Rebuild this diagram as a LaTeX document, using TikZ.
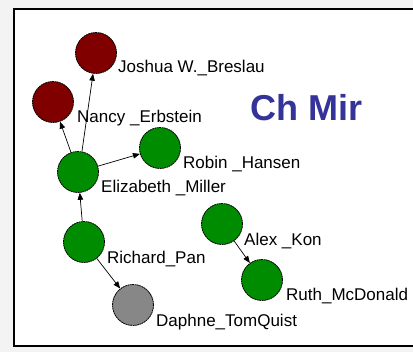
\documentclass[tikz,border=0pt]{standalone}
\usepackage{fontspec}
\setmainfont{Liberation Sans}
\usetikzlibrary{arrows.meta}
\definecolor{bgout}{HTML}{F3F3F3}
\definecolor{dred}{HTML}{800000}
\definecolor{dgreen}{HTML}{008C00}
\definecolor{dgray}{HTML}{878787}
\definecolor{titleblue}{HTML}{333399}
\tikzset{
  person/.style={circle, minimum size=41pt, inner sep=0pt, draw=black, line width=0.8pt, dash pattern=on 1.8pt off 0.6pt},
  red/.style={person, fill=dred},
  grn/.style={person, fill=dgreen},
  gry/.style={person, fill=dgray},
  lbl/.style={anchor=base west, inner sep=0pt, font=\fontsize{17}{17}\selectfont},
  link/.style={draw=black, line width=0.7pt, -{Triangle[length=7pt,width=5.5pt]}}
}
\begin{document}
\begin{tikzpicture}[x=1pt,y=-1pt]
\useasboundingbox (0,0) rectangle (413,352);
\fill[bgout] (0,0) rectangle (413,352);
\fill[white] (14,9) rectangle (420,346);
\draw[line width=2pt] (420,9) -- (14,9) -- (14,346) -- (420,346);
% nodes
\node[red] (jos) at (96,53) {};
\node[red] (nan) at (53,102) {};
\node[grn] (rob) at (160,148) {};
\node[grn] (eli) at (78,172) {};
\node[grn] (ric) at (84,242) {};
\node[gry] (dap) at (133,305) {};
\node[grn] (ale) at (222,224) {};
\node[grn] (rut) at (262,280) {};
% labels
\node[lbl] (ljos) at (118,73) {Joshua W.\_Breslau};
\node[lbl] (lnan) at (77,123) {Nancy \_Erbstein};
\node[lbl] (lrob) at (183,169) {Robin \_Hansen};
\node[lbl] (leli) at (101,193) {Elizabeth \_Miller};
\node[lbl] (lric) at (107,264) {Richard\_Pan};
\node[lbl] (lale) at (244,246) {Alex \_Kon};
\node[lbl] (lrut) at (286,301) {Ruth\_McDonald};
\node[lbl] (ldap) at (156,327) {Daphne\_TomQuist};
\node[anchor=base west, inner sep=0pt, text=titleblue, font=\fontsize{36}{36}\selectfont\bfseries] (title) at (250,121) {Ch Mir};
% edges
\draw[link] (eli) -- (nan);
\draw[link] (eli.north) ++(4,0) coordinate (e1) (e1) -- (jos);
\draw[link] (eli) -- (rob);
\draw[link] (ric) -- (eli);
\draw[link] (ric) -- (dap);
\draw[link] (ale) -- (rut);
\end{tikzpicture}
\end{document}
